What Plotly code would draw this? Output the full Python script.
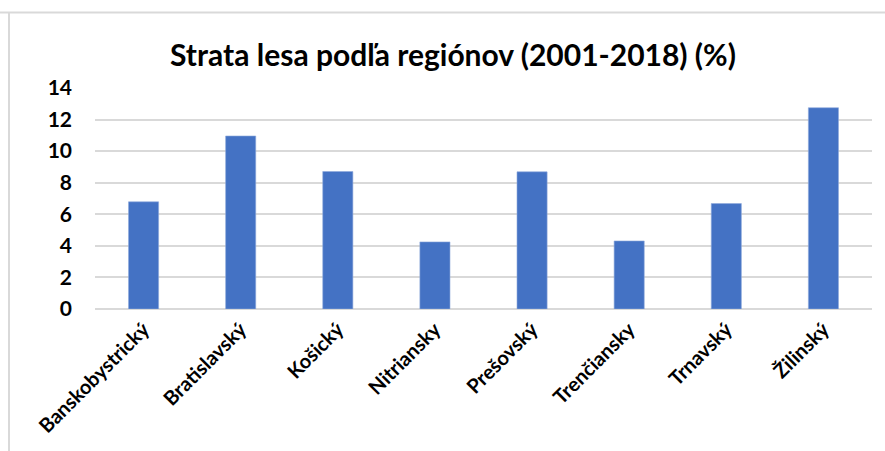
import plotly.graph_objects as go

categories = ["Banskobystrický", "Bratislavský", "Košický", "Nitriansky",
              "Prešovský", "Trenčiansky", "Trnavský", "Žilinský"]
values = [6.79, 10.96, 8.71, 4.25, 8.69, 4.31, 6.68, 12.75]
y_ticks = [0, 2, 4, 6, 8, 10, 12, 14]
title = "Strata lesa podľa regiónov (2001-2018) (%)"

FONT = "Lato"

fig = go.Figure(go.Bar(
    x=categories, y=values,
    marker=dict(color="#4472C4", line=dict(color="#8FAADC", width=0.6)),
    hoverinfo="x+y",
))

fig.update_layout(
    width=885, height=451,
    margin=dict(l=95, r=13, t=88, b=142),
    paper_bgcolor="white", plot_bgcolor="white",
    bargap=0.69,
    showlegend=False,
    title=dict(text="<b>" + title + "</b>", x=453 / 885, xanchor="center",
               y=1 - 55 / 451, yanchor="middle", yref="container",
               font=dict(family=FONT, size=30, color="black")),
    font=dict(family=FONT, color="black"),
    xaxis=dict(tickangle=-45, tickfont=dict(family=FONT, size=20, color="black", weight="bold"),
               showgrid=False, showline=False, ticks="", fixedrange=True,
               ticklabelstandoff=4),
    yaxis=dict(range=[0, 14], tickvals=y_ticks, ticktext=[str(v) for v in y_ticks],
               tickfont=dict(family=FONT, size=21, color="black", weight="bold"),
               showgrid=True, gridcolor="#D9D9D9", gridwidth=1.5,
               zeroline=True, zerolinecolor="#D9D9D9", zerolinewidth=1.5,
               ticklabelstandoff=22, showline=False, fixedrange=True),
    shapes=[
        dict(type="line", xref="paper", yref="paper",
             x0=-95 / 777, x1=(885 - 95) / 777, y0=(309 - 13) / 220.7, y1=(309 - 13) / 220.7,
             line=dict(color="#D9D9D9", width=2)),
        dict(type="line", xref="paper", yref="paper",
             x0=-(95 - 9) / 777, x1=-(95 - 9) / 777, y0=(309 - 13) / 220.7, y1=-(451 - 309) / 220.7,
             line=dict(color="#D9D9D9", width=2)),
    ],
)

fig.write_html("out.html")
